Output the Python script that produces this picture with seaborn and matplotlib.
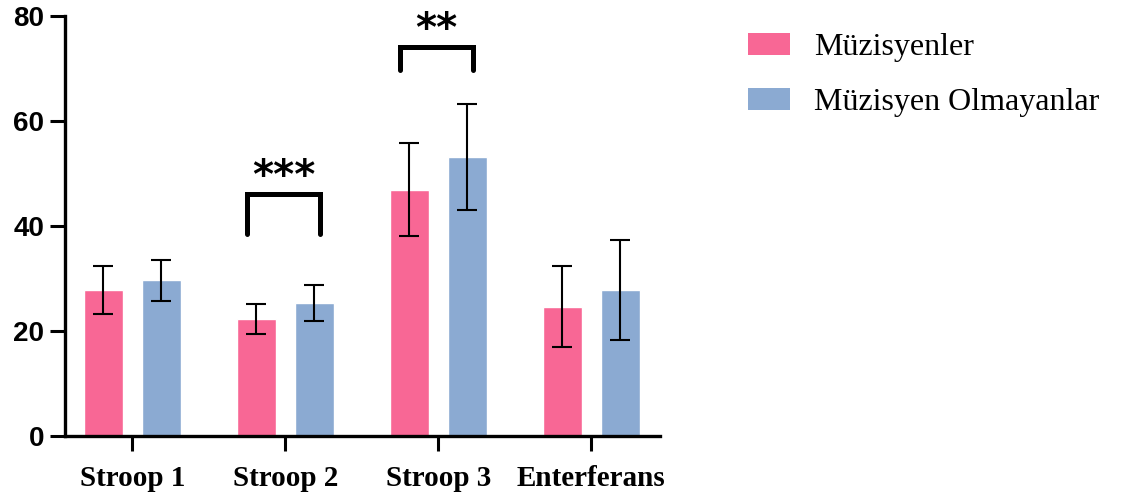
import pandas as pd
import matplotlib.pyplot as plt
import seaborn as sn
from matplotlib.patches import Patch

# degerler
kategoriler = ["Stroop 1", "Stroop 2", "Stroop 3", "Enterferans"]
gruplar = ["Müzisyenler", "Müzisyen Olmayanlar"]
muzisyen_ort = [27.8, 22.3, 46.9, 24.6]
muzisyen_ss = [4.5, 2.8, 8.85, 7.7]
olmayan_ort = [29.7, 25.3, 53.1, 27.8]
olmayan_ss = [3.9, 3.45, 10.1, 9.5]
y_tikler = [0, 20, 40, 60, 80]
renkler = ["#F86795", "#8BAAD2"]

# anlamlilik isaretleri: (kategori indeksi, yildiz, ust, alt)
anlamlilik = [(1, "***", 46.1, 38.5), (2, "**", 74.1, 69.7)]

df = pd.DataFrame({
    "kategori": kategoriler * 2,
    "grup": [gruplar[0]] * 4 + [gruplar[1]] * 4,
    "ort": muzisyen_ort + olmayan_ort,
    "ss": muzisyen_ss + olmayan_ss,
})

sn.set_style("white")
plt.rcParams["text.color"] = "black"
plt.rcParams["xtick.color"] = "black"
plt.rcParams["ytick.color"] = "black"
fig = plt.figure(figsize=(11.35, 5.03), dpi=100)
ax = fig.add_axes([65 / 1135, 67 / 503, 595 / 1135, 420 / 503])

sn.barplot(data=df, x="kategori", y="ort", hue="grup", palette=renkler,
           width=0.76, gap=0.33, errorbar=None, legend=False, ax=ax,
           saturation=1)

# hata cubuklari
for i, grup in enumerate(gruplar):
    alt = df[df["grup"] == grup]
    xs = [k + (i - 0.5) * 0.38 for k in range(len(kategoriler))]
    ax.errorbar(xs, alt["ort"], yerr=alt["ss"], fmt="none", ecolor="black",
                elinewidth=1.5, capsize=7, capthick=1.5)

# koseli parantezler
for k, yildiz, ust, alt_y in anlamlilik:
    x1, x2 = k - 0.25, k + 0.23
    ax.plot([x1, x1, x2, x2], [alt_y, ust, ust, alt_y], color="black",
            lw=3.6, solid_joinstyle="miter", clip_on=False)
    ax.text((x1 + x2) / 2, ust + 1.1, yildiz, ha="center", va="baseline",
            fontsize=29, fontweight="bold", family="DejaVu Sans", color="black")

ax.set_ylim(0, 80)
ax.set_xlim(-0.44, 3.45)
ax.set_yticks(y_tikler, labels=[str(v) for v in y_tikler],
              fontfamily="Liberation Sans", fontweight="bold", fontsize=20)
ax.set_xticks(range(len(kategoriler)), labels=kategoriler,
              fontfamily="Liberation Serif", fontweight="bold", fontsize=21)
ax.set_xlabel("")
ax.set_ylabel("")
for s in ["top", "right"]:
    ax.spines[s].set_visible(False)
for s in ["left", "bottom"]:
    ax.spines[s].set_linewidth(2.4)
    ax.spines[s].set_color("black")
ax.tick_params(axis="both", length=11, width=2.2, color="black",
               direction="out", bottom=True, left=True)
ax.tick_params(axis="y", pad=4)
ax.tick_params(axis="x", pad=10)

el = [Patch(facecolor=r, edgecolor="none", label=g) for r, g in zip(renkler, gruplar)]
fig.legend(handles=el, loc="upper left", bbox_to_anchor=(748 / 1135, 1 - 33 / 503),
           frameon=False, prop={"family": "Liberation Serif", "size": 23},
           handlelength=1.3, handleheight=0.69, handletextpad=0.78,
           labelspacing=0.8, borderpad=0, borderaxespad=0)

fig.savefig("out.png", dpi=100)
